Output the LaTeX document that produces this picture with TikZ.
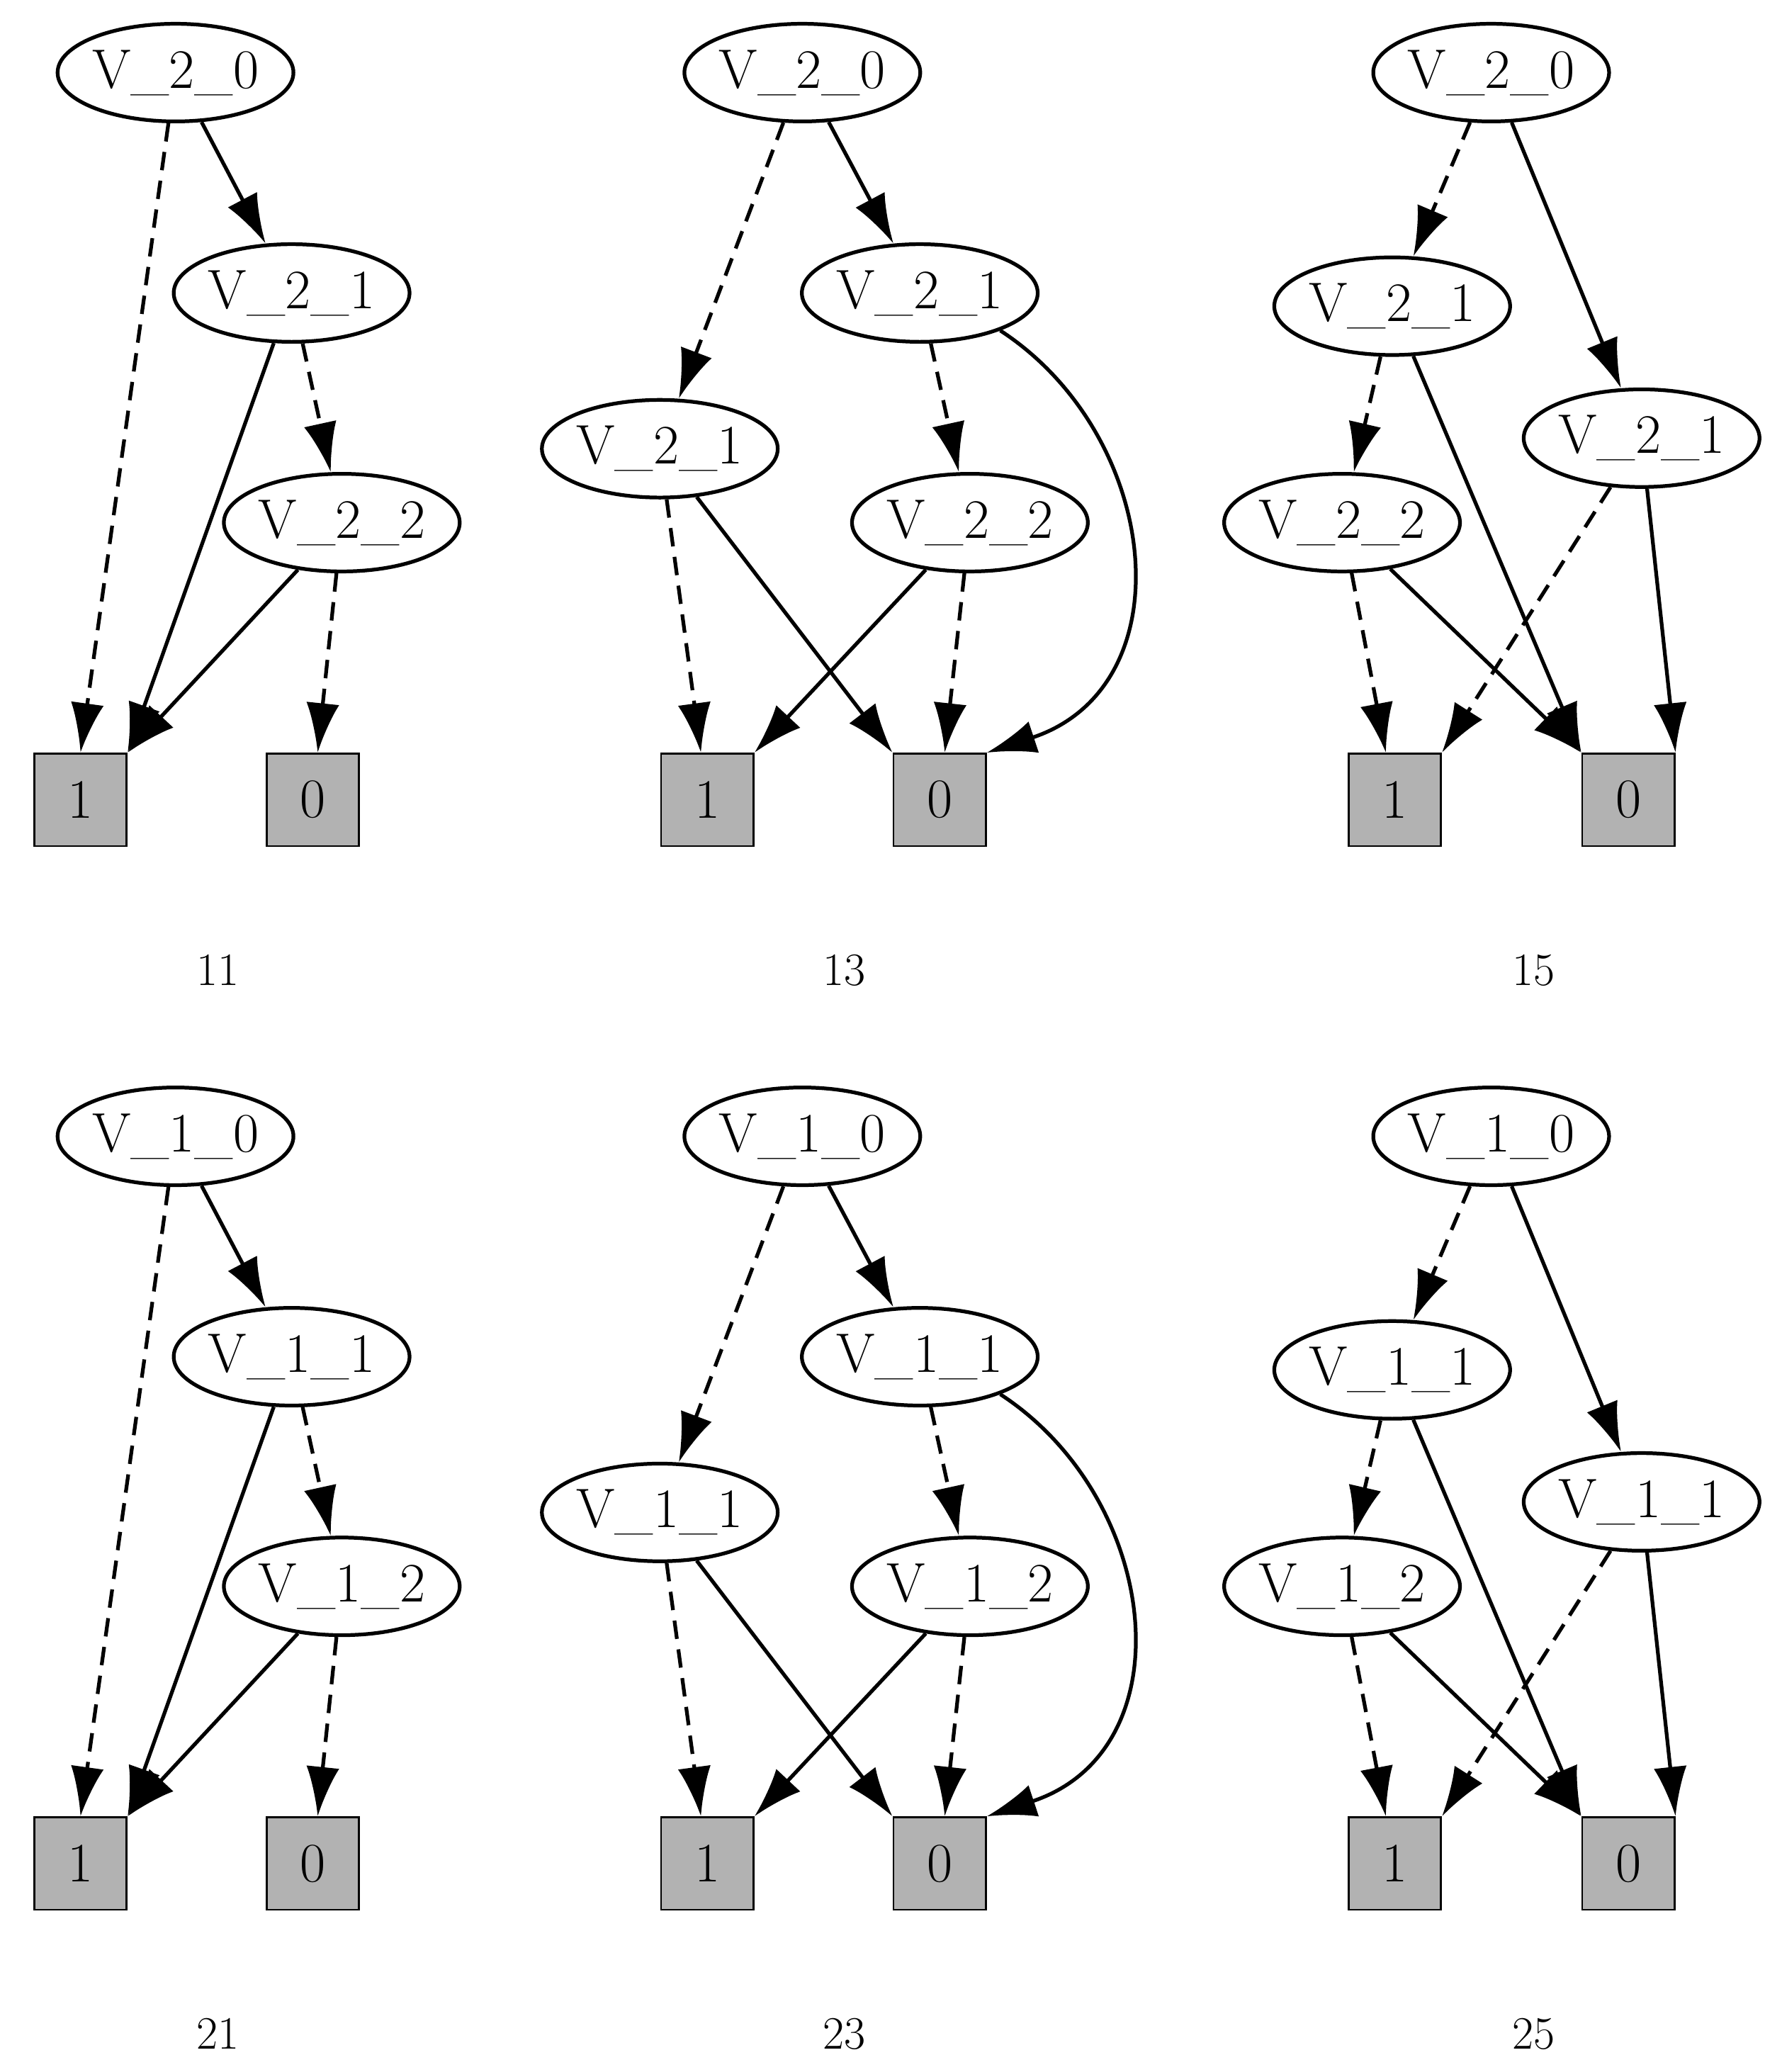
\documentclass[tikz,border=0pt]{standalone}
\usetikzlibrary{shapes.geometric,arrows.meta}
\begin{document}
\begin{tikzpicture}[x=0.02cm,y=-0.02cm,
  v/.style={ellipse,draw,line width=1.6pt,minimum width=3.4cm,minimum height=1.48cm,inner sep=0pt,font=\fontsize{24}{28}\selectfont},
  t/.style={rectangle,draw,line width=0.8pt,fill=gray!60,minimum size=1.4cm,inner sep=0pt,font=\fontsize{24}{28}\selectfont},
  lab/.style={font=\fontsize{20}{24}\selectfont},
  e/.style={line width=1.6pt,-{Latex[length=0.75cm,width=0.5cm]}},
  d/.style={e,dash pattern=on 0.28cm off 0.16cm}]
\useasboundingbox (0,0) rectangle (1350,1570);
\newcommand\panelA[4]{% prefix, digit, dy, label
\begin{scope}[shift={(0,#3)}]
\node[v] (#1a) at (133,55) {V\_#2\_0};
\node[v] (#1b) at (221,222) {V\_#2\_1};
\node[v] (#1c) at (259,396) {V\_#2\_2};
\node[t] (#1one) at (61,606) {1};
\node[t] (#1zero) at (237,606) {0};
\node[lab] (#1l) at (165,735) {#4};
\draw[d] (#1a) -- (#1one.north);
\draw[e] (#1a) -- (#1b);
\draw[d] (#1b) -- (#1c);
\draw[e] (#1b) -- (#1one.north east);
\draw[e] (#1c) -- (#1one.north east);
\draw[d] (#1c) -- (#1zero);
\end{scope}}
\newcommand\panelB[4]{%
\begin{scope}[shift={(0,#3)}]
\node[v] (#1a) at (608,55) {V\_#2\_0};
\node[v] (#1b) at (697,222) {V\_#2\_1};
\node[v] (#1d) at (500,340) {V\_#2\_1};
\node[v] (#1c) at (735,396) {V\_#2\_2};
\node[t] (#1one) at (536,606) {1};
\node[t] (#1zero) at (712,606) {0};
\node[lab] (#1l) at (640,735) {#4};
\draw[d] (#1a) -- (#1d);
\draw[e] (#1a) -- (#1b);
\draw[d] (#1b) -- (#1c);
\draw[e] (#1b.-25) .. controls (880,330) and (900,520) .. (#1zero.north east);
\draw[d] (#1d) -- (#1one);
\draw[e] (#1d) -- (#1zero.north west);
\draw[e] (#1c) -- (#1one.north east);
\draw[d] (#1c) -- (#1zero);
\end{scope}}
\newcommand\panelC[4]{%
\begin{scope}[shift={(0,#3)}]
\node[v] (#1a) at (1130,55) {V\_#2\_0};
\node[v] (#1b) at (1055,232) {V\_#2\_1};
\node[v] (#1d) at (1244,332) {V\_#2\_1};
\node[v] (#1c) at (1017,396) {V\_#2\_2};
\node[t] (#1one) at (1057,606) {1};
\node[t] (#1zero) at (1234,606) {0};
\node[lab] (#1l) at (1162,735) {#4};
\draw[d] (#1a) -- (#1b);
\draw[e] (#1a) -- (#1d);
\draw[d] (#1b) -- (#1c);
\draw[e] (#1b) -- (#1zero.north west);
\draw[d] (#1d) -- (#1one.north east);
\draw[e] (#1d) -- (#1zero.north east);
\draw[d] (#1c) -- (#1one);
\draw[e] (#1c) -- (#1zero.north west);
\end{scope}}
\panelA{p}{2}{0}{11}
\panelB{q}{2}{0}{13}
\panelC{r}{2}{0}{15}
\panelA{s}{1}{806}{21}
\panelB{u}{1}{806}{23}
\panelC{w}{1}{806}{25}
\end{tikzpicture}
\end{document}
